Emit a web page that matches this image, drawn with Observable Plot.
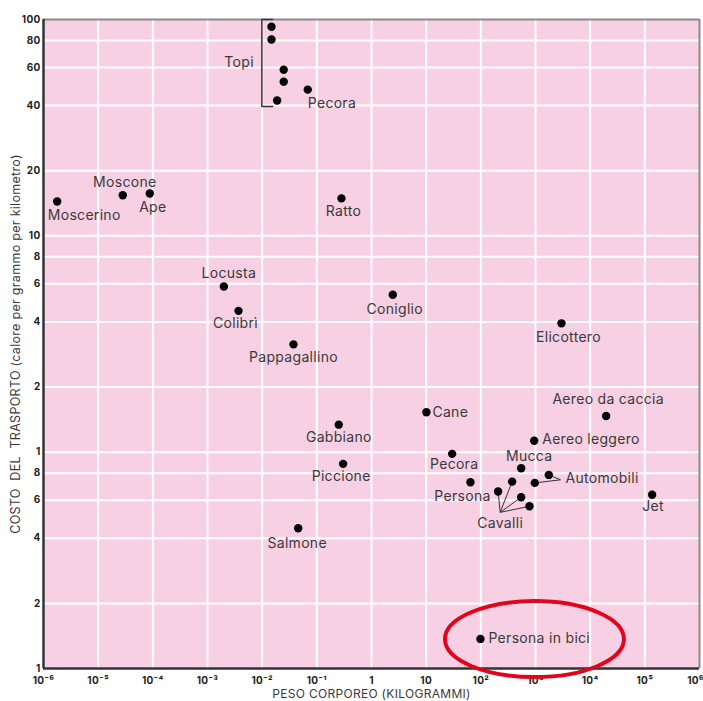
<!DOCTYPE html>
<html>
<head>
<meta charset="utf-8">
<script src="https://cdn.jsdelivr.net/npm/d3@7"></script>
<script src="https://cdn.jsdelivr.net/npm/@observablehq/plot@0.6"></script>
<style>
  html, body { margin: 0; padding: 0; background: #ffffff; }
  #chart svg { display: block; }
</style>
</head>
<body>
<div id="chart"></div>
<script>
// ---------- data ----------
const species = ["Moscerino","Moscone","Ape","Topi","Topi","Topi","Topi","Topi","Pecora","Ratto",
  "Locusta","Colibrì","Pappagallino","Coniglio","Elicottero","Cane","Gabbiano","Piccione","Salmone",
  "Pecora","Persona","Cavalli","Cavalli","Cavalli","Cavalli","Mucca","Aereo leggero",
  "Automobili","Automobili","Aereo da caccia","Jet","Persona in bici"];
const massKg = [1.78e-6, 2.82e-5, 8.8e-5, 0.0148, 0.0148, 0.0248, 0.0248, 0.0188, 0.0682, 0.282,
  0.00199, 0.00369, 0.0374, 2.45, 2985, 10.1, 0.252, 0.303, 0.0456,
  29.9, 64.6, 207, 374, 547, 776, 547, 946,
  1750, 970, 19600, 136000, 98.4];
const costCal = [14.4, 15.4, 15.7, 92.5, 80.8, 58.6, 51.6, 42.2, 47.4, 14.9,
  5.83, 4.50, 3.15, 5.34, 3.94, 1.53, 1.34, 0.883, 0.445,
  0.982, 0.726, 0.658, 0.731, 0.619, 0.562, 0.842, 1.13,
  0.785, 0.721, 1.47, 0.636, 0.137];

// callout anchors for grouped labels (data units)
const calloutNames = ["Cavalli", "Automobili"];
const calloutMass = [226, 2864];
const calloutCost = [0.527, 0.745];

const xTicks = [1e-6,1e-5,1e-4,1e-3,1e-2,1e-1,1,10,1e2,1e3,1e4,1e5,1e6];
const xTickLabels = ["10⁻⁶","10⁻⁵","10⁻⁴","10⁻³","10⁻²","10⁻¹","1","10","10²","10³","10⁴","10⁵","10⁶"];
const yTicks = [0.1,0.2,0.4,0.6,0.8,1,2,4,6,8,10,20,40,60,80,100];
const yTickLabels = ["1","2","4","6","8","1","2","4","6","8","10","20","40","60","80","100"];

const xTitle = "PESO CORPOREO (KILOGRAMMI)";
const yTitle = "COSTO  DEL  TRASPORTO (calore per grammo per kilometro)";
const topiLabel = "Topi";

// ---------- layout (pixel offsets of labels, styles) ----------
const labelLayout = {
  0: [27, 14, "middle"], 1: [2, -13, "middle"], 2: [3, 14, "middle"],
  8: [0, 14, "start"], 9: [2, 13, "middle"], 10: [5, -13, "middle"], 11: [-3, 13, "middle"],
  12: [0, 13, "middle"], 13: [2, 15, "middle"], 14: [7, 14, "middle"], 15: [6, 0, "start"],
  16: [0, 13, "middle"], 17: [-2, 13, "middle"], 18: [-1, 15, "middle"], 19: [2, 11, "middle"],
  20: [-8, 14, "middle"], 25: [8, -12, "middle"], 26: [8, -1, "start"], 29: [2, -16, "middle"],
  30: [1, 12, "middle"], 31: [8, 0, "start"]
};
const pink = "#f7d0e3";
const ink = "#3a3a3a";
const font = "Inter, 'DejaVu Sans', sans-serif";

const points = species.map((s, i) => ({name: s, mass: massKg[i], cost: costCal[i], i}));
const callouts = calloutNames.map((n, i) => ({name: n, mass: calloutMass[i], cost: calloutCost[i]}));
const calloutLinks = [];
for (const c of callouts) for (const p of points) if (p.name === c.name)
  calloutLinks.push({x1: c.mass, y1: c.cost, x2: p.mass, y2: p.cost});

// Topi bracket, derived from the Topi points
const topi = points.filter(p => p.name === "Topi");
const tMinX = d3.min(topi, d => d.mass), tMinY = d3.min(topi, d => d.cost);
const bx0 = tMinX / 1.5, bx1 = tMinX * 1.05, byTop = 100, byBot = tMinY / 1.065;
const bracket = [{x: bx1, y: byTop}, {x: bx0, y: byTop}, {x: bx0, y: byBot}, {x: bx1, y: byBot}];
const topiText = [{x: bx0, y: Math.sqrt(byTop * byBot), t: topiLabel}];

const bici = points[points.length - 1];

const labelMarks = Object.entries(labelLayout).map(([k, [dx, dy, anchor]]) =>
  Plot.text([points[+k]], {x: "mass", y: "cost", text: "name", dx, dy, textAnchor: anchor,
    fontSize: 14, fill: ink}));

const tickStyle = {fontSize: 10, fontWeight: "bold", fill: "#222"};
const lastX = xTicks.length - 1;

const chart = Plot.plot({
  width: 703, height: 701,
  marginLeft: 43, marginRight: 4, marginTop: 19, marginBottom: 33,
  style: {fontFamily: font, background: "#ffffff", overflow: "visible", letterSpacing: "0.3px"},
  x: {type: "log", domain: [1e-6, 1e6], axis: null},
  y: {type: "log", domain: [0.1, 100], axis: null},
  marks: [
    Plot.frame({fill: pink}),
    Plot.ruleX(xTicks.slice(1, -1), {stroke: "white", strokeWidth: 2}),
    Plot.ruleY(yTicks.slice(1, -1), {stroke: "white", strokeWidth: 2}),
    Plot.ruleY([100], {stroke: "#8a8a8a", strokeWidth: 2}),
    Plot.ruleX([1e6], {stroke: "#8a8a8a", strokeWidth: 2}),
    Plot.ruleX([1e-6], {stroke: "#333", strokeWidth: 2.5}),
    Plot.ruleY([0.1], {stroke: "#333", strokeWidth: 2.5}),
    // tick labels
    Plot.text(xTicks.slice(0, lastX), {x: d => d, text: (d, i) => xTickLabels[i],
      frameAnchor: "bottom", lineAnchor: "middle", dy: 12, ...tickStyle}),
    Plot.text([xTicks[lastX]], {x: d => d, text: () => xTickLabels[lastX],
      frameAnchor: "bottom", lineAnchor: "middle", dy: 12, dx: -4, ...tickStyle}),
    Plot.text(yTicks, {y: d => d, text: (d, i) => yTickLabels[i],
      frameAnchor: "left", textAnchor: "end", dx: -3, ...tickStyle}),
    // axis titles
    Plot.text([xTitle], {frameAnchor: "bottom", text: d => d, textAnchor: "middle", lineAnchor: "middle",
      dy: 25.5, fontSize: 12, fill: ink}),
    Plot.text([yTitle], {frameAnchor: "left", text: d => d, textAnchor: "middle", lineAnchor: "middle",
      dx: -28, rotate: -90, fontSize: 12.5, fill: ink}),
    // annotations
    Plot.line(bracket, {x: "x", y: "y", stroke: "#333", strokeWidth: 1.5}),
    Plot.text(topiText, {x: "x", y: "y", text: "t", dx: -8, textAnchor: "end", fontSize: 14, fill: ink}),
    Plot.link(calloutLinks, {x1: "x1", y1: "y1", x2: "x2", y2: "y2", stroke: "#333", strokeWidth: 1}),
    Plot.text(callouts.filter(c => c.name === "Cavalli"), {x: "mass", y: "cost", text: "name", dy: 11, fontSize: 14, fill: ink}),
    Plot.text(callouts.filter(c => c.name === "Automobili"), {x: "mass", y: "cost", text: "name", dx: 5, dy: -1, textAnchor: "start", fontSize: 14, fill: ink}),
    Plot.dot(points, {x: "mass", y: "cost", r: 4.2, fill: "black", stroke: "none"}),
    ...labelMarks,
    (index, scales) => {
      const cx = scales.x(bici.mass) + 54.5, cy = scales.y(bici.cost) + 0.7;
      return d3.create("svg:ellipse")
        .attr("cx", cx).attr("cy", cy).attr("rx", 89.5).attr("ry", 38)
        .attr("fill", "none").attr("stroke", "#e0051b").attr("stroke-width", 4).node();
    }
  ]
});
document.getElementById("chart").appendChild(chart);
</script>
</body>
</html>
